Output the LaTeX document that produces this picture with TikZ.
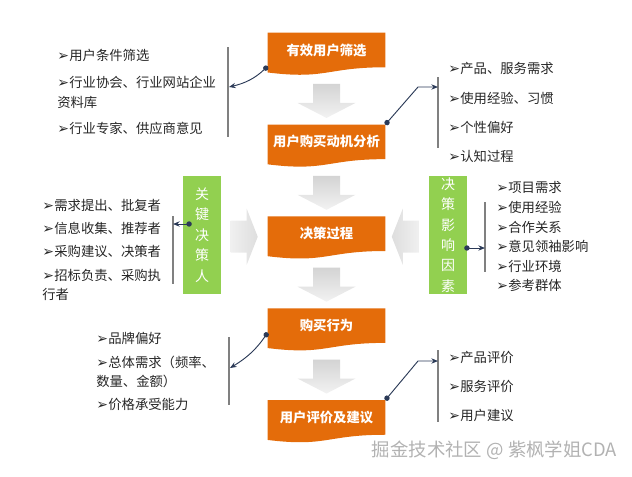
\documentclass[tikz,border=0pt]{standalone}
\usepackage{fontspec}
\setmainfont{Noto Sans CJK SC}
\newfontfamily\symfont{DejaVu Sans}
\usetikzlibrary{arrows.meta,calc,positioning,backgrounds}

\definecolor{stageorange}{HTML}{E46C0A}
\definecolor{keygreen}{HTML}{92D050}
\definecolor{linkblue}{HTML}{2B3A57}
\definecolor{bargray}{HTML}{808080}

\newcommand{\itm}{{\symfont\bfseries\fontsize{10.5}{9}\selectfont ➢}\hspace{0.3pt}}

\begin{document}
\begin{tikzpicture}[
  x=0.75pt,y=-0.75pt,
  font=\fontsize{10}{14.5}\selectfont,
  stage/.style={minimum width=87.75pt,minimum height=25.5pt,inner sep=0pt,
                text=white,font=\fontsize{10}{12}\selectfont\bfseries},
  keybox/.style={fill=keygreen,minimum width=28.5pt,minimum height=88.5pt,
                 inner sep=0pt,align=center,text=white,
                 font=\fontsize{10.5}{15.3}\selectfont},
  item/.style={anchor=west,inner sep=0pt,align=left,text=black!85},
  bar/.style={draw=bargray,line width=0.8pt},
  link/.style={draw=linkblue,line width=0.7pt,
               arrows={Circle[length=4pt]-Stealth[length=5pt,width=4pt]}},
  downflow/.pic={\shade[top color=gray!34,bottom color=gray!10]
      (-13.5,-17) -- (13.5,-17) -- (13.5,2) -- (29,2) -- (0,17)
      -- (-29,2) -- (-13.5,2) -- cycle;},
  rightflow/.pic={\shade[left color=gray!12,right color=gray!26]
      (-13.5,-16) -- (2.5,-16) -- (2.5,-28) -- (13.5,0) -- (2.5,28)
      -- (2.5,16) -- (-13.5,16) -- cycle;},
  leftflow/.pic={\shade[right color=gray!12,left color=gray!26]
      (13.5,-16) -- (-2.5,-16) -- (-2.5,-28) -- (-13.5,0) -- (-2.5,28)
      -- (-2.5,16) -- (13.5,16) -- cycle;},
]
\useasboundingbox (0,0) rectangle (632,476);

%% =====================================================
%%  Main flow: five orange stages
%% =====================================================
\node[stage] (s1) at (326.5,50) {有效用户筛选};
\node[stage,below=43pt of s1] (s2) {用户购买动机分析};
\node[stage,below=43pt of s2] (s3) {决策过程};
\node[stage,below=43pt of s3] (s4) {购买行为};
\node[stage,below=43pt of s4] (s5) {用户评价及建议};

\begin{scope}[on background layer]
  \foreach \s in {s1,s2,s3,s4,s5}
    \fill[stageorange] (\s.north west) -- (\s.north east) -- (\s.south east)
      .. controls (\s.south) and ($(\s.south)+(0,12.5)$) .. ($(\s.south west)+(0,5.2)$)
      -- cycle;
\end{scope}

% gray block arrows between stages
\pic at ($(s1.south)!0.5!(s2.north)+(0,5)$) {downflow};
\pic at ($(s2.south)!0.5!(s3.north)+(0,5)$) {downflow};
\pic at ($(s3.south)!0.5!(s4.north)+(0,5)$) {downflow};
\pic at ($(s4.south)!0.5!(s5.north)+(0,5)$) {downflow};
\pic at ($(s3.west)+(-23.5,3)$) {rightflow};
\pic at ($(s3.east)+(20,3)$) {leftflow};

%% =====================================================
%%  Green side boxes
%% =====================================================
\node[keybox] (kdm) at (202,235) {关\\键\\决\\策\\人};
\node[keybox] (dif) at (448,235) {决\\策\\影\\响\\因\\素};

%% =====================================================
%%  Lists with their bars
%% =====================================================
% --- user screening ---
\foreach \t/\y [count=\i] in {用户条件筛选/55,
    {行业协会、行业网站企业\\资料库}/92.5, 行业专家、供应商意见/128}
  \node[item] (la\i) at (57,\y) {\itm\t};
\coordinate (l1t) at (228,47);
\coordinate (l1b) at (228,137);
\coordinate (l1m) at (229,87);
\draw[bar] (l1t) -- (l1b);

% --- motivation ---
\foreach \t/\y [count=\i] in {产品、服务需求/68, 使用经验、习惯/98,
    个性偏好/127, 认知过程/156}
  \node[item] (ra\i) at (448,\y) {\itm\t};
\coordinate (r1t) at (438,77);
\coordinate (r1b) at (438,148);
\coordinate (r1m) at (438,87);
\draw[bar] (r1t) -- (r1b);

% --- key decision makers ---
\foreach \t/\y [count=\i] in {需求提出、批复者/205, 信息收集、推荐者/228,
    采购建议、决策者/251, {招标负责、采购执\\行者}/285}
  \node[item] (lb\i) at (42,\y) {\itm\t};
\coordinate (l2t) at (173,216);
\coordinate (l2b) at (173,284);
\coordinate (l2m) at (173,224);
\draw[bar] (l2t) -- (l2b);

% --- decision factors ---
\foreach \t/\y [count=\i] in {项目需求/187, 使用经验/207, 合作关系/227,
    意见领袖影响/246, 行业环境/266, 参考群体/285}
  \node[item] (rb\i) at (496,\y) {\itm\t};
\coordinate (r2t) at (485,202);
\coordinate (r2b) at (485,272);
\coordinate (r2m) at (485,248);
\draw[bar] (r2t) -- (r2b);

% --- purchase behaviour ---
\foreach \t/\y [count=\i] in {品牌偏好/338, {总体需求（频率、\\数量、金额）}/372,
    价格承受能力/404}
  \node[item] (lc\i) at (96,\y) {\itm\t};
\coordinate (l3t) at (229,337);
\coordinate (l3b) at (229,405);
\coordinate (l3m) at (230,368);
\draw[bar] (l3t) -- (l3b);

% --- evaluation ---
\foreach \t/\y [count=\i] in {产品评价/357, 服务评价/386, 用户建议/415}
  \node[item] (rc\i) at (448,\y) {\itm\t};
\coordinate (r3t) at (438,350);
\coordinate (r3b) at (438,422);
\coordinate (r3m) at (438,361);
\draw[bar] (r3t) -- (r3b);

%% =====================================================
%%  Connectors
%% =====================================================
\draw[link] ($(s1.south west)+(0,-1)$) to[bend left=15] (l1m);
\draw[link] (s2.north east) -- ($(r1m)+(-20,0)$) -- (r1m);
\draw[link] ($(kdm.west)+(9,-11)$) -- (l2m);
\draw[link] ($(dif.east)+(-3,13)$) -- (r2m);
\draw[link] ($(s4.west)+(0,7)$) to[bend left=12] (l3m);
\draw[link] (s5.north east) -- ($(r3m)+(-20,0)$) -- (r3m);

% watermark
\node[text=gray!60,font=\fontsize{13.8}{16}\selectfont] (wm) at (494.5,450)
  {掘金技术社区 @ 紫枫学姐CDA};

\end{tikzpicture}
\end{document}
